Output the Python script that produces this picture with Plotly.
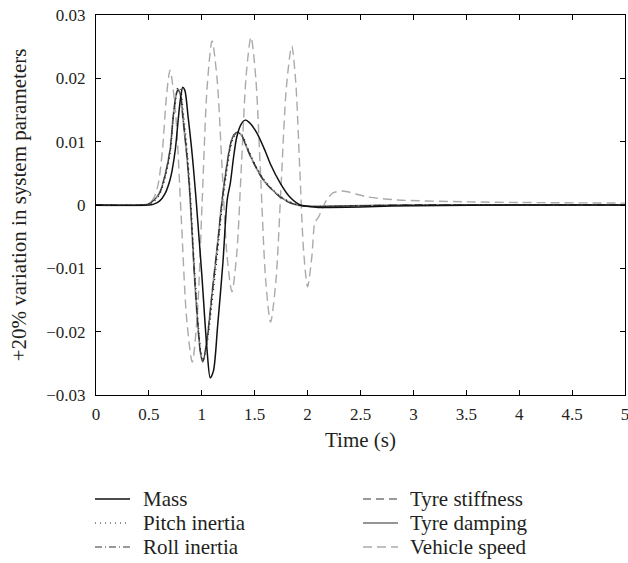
import plotly.graph_objects as go

# ---- data ----
t_mass = [0, 0.5, 0.54, 0.6, 0.65, 0.7, 0.72, 0.75, 0.78, 0.8, 0.82, 0.84, 0.87, 0.9, 0.92, 0.95,
          1.0, 1.05, 1.08, 1.11, 1.15, 1.2, 1.24, 1.27, 1.3, 1.33, 1.37, 1.41, 1.45, 1.52, 1.6,
          1.645, 1.74, 1.83, 1.93, 2.0, 2.1, 2.2, 2.5, 3.0, 4.0, 5.0]
v_mass = [0, 0, 0.0001, 0.0006, 0.0017, 0.0040, 0.0055, 0.0088, 0.0140, 0.0170, 0.0186, 0.0181,
          0.0140, 0.0095, 0.0060, 0.0000, -0.0110, -0.0230, -0.0273, -0.0262, -0.0190, -0.0090,
          0.0008, 0.0035, 0.0075, 0.0107, 0.0127, 0.0134, 0.0130, 0.0114, 0.0085, 0.0066, 0.0035,
          0.0013, 0.0000, -0.0002, -0.0004, -0.0004, -0.0003, -0.0001, 0.0, 0.0]

t_grp = [0, 0.45, 0.5, 0.55, 0.6, 0.65, 0.7, 0.73, 0.755, 0.775, 0.8, 0.82, 0.86, 0.89, 0.93,
         0.97, 0.99, 1.01, 1.05, 1.1, 1.15, 1.19, 1.23, 1.27, 1.3, 1.34, 1.38, 1.42, 1.46, 1.52,
         1.58, 1.66, 1.74, 1.82, 1.9, 2.0, 2.2, 2.5, 3.0, 4.0, 5.0]
v_damping = [0, 0, 0.0002, 0.0008, 0.0019, 0.0045, 0.0087, 0.0140, 0.0172, 0.0183, 0.0172, 0.0140,
             0.0075, 0.0010, -0.0110, -0.0205, -0.0236, -0.0248, -0.0212, -0.0135, -0.0060, 0.0005,
             0.0055, 0.0095, 0.0110, 0.0115, 0.0109, 0.0093, 0.0077, 0.0057, 0.0040, 0.0025, 0.0013,
             0.0005, 0.0000, -0.0002, -0.0002, -0.0001, 0.0, 0.0, 0.0]
v_pitch = [0, 0, 0.0001, 0.0006, 0.0016, 0.0040, 0.0080, 0.0135, 0.0170, 0.0186, 0.0182, 0.0155,
           0.0090, 0.0025, -0.0095, -0.0195, -0.0230, -0.0246, -0.0220, -0.0150, -0.0075, -0.0008,
           0.0045, 0.0088, 0.0106, 0.0114, 0.0111, 0.0096, 0.0080, 0.0059, 0.0042, 0.0026, 0.0014,
           0.0006, 0.0001, -0.0002, -0.0002, -0.0001, 0.0, 0.0, 0.0]
v_roll = [0, 0, 0.0002, 0.0008, 0.0018, 0.0044, 0.0085, 0.0138, 0.0171, 0.0182, 0.0174, 0.0143,
          0.0078, 0.0012, -0.0106, -0.0202, -0.0234, -0.0247, -0.0214, -0.0138, -0.0063, 0.0003,
          0.0053, 0.0093, 0.0109, 0.0114, 0.0109, 0.0094, 0.0078, 0.0058, 0.0041, 0.0025, 0.0013,
          0.0005, 0.0000, -0.0002, -0.0002, -0.0001, 0.0, 0.0, 0.0]
v_stiff = [0, 0, 0.0002, 0.0008, 0.0019, 0.0046, 0.0088, 0.0141, 0.0173, 0.0182, 0.0171, 0.0139,
           0.0074, 0.0008, -0.0112, -0.0207, -0.0237, -0.0247, -0.0210, -0.0133, -0.0058, 0.0006,
           0.0056, 0.0096, 0.0111, 0.0115, 0.0108, 0.0092, 0.0076, 0.0056, 0.0039, 0.0024, 0.0012,
           0.0004, 0.0000, -0.0002, -0.0002, -0.0001, 0.0, 0.0, 0.0]

t_speed = [0, 0.45, 0.5, 0.55, 0.59, 0.63, 0.665, 0.70, 0.7525, 0.805, 0.8575, 0.91, 0.957, 1.0035,
           1.05, 1.097, 1.144, 1.191, 1.238, 1.285, 1.33, 1.375, 1.42, 1.465, 1.511, 1.5575, 1.604,
           1.65, 1.70, 1.75, 1.80, 1.85, 1.8875, 1.925, 1.9625, 2.0, 2.04, 2.07, 2.1, 2.18, 2.24,
           2.33, 2.56, 2.85, 3.5, 4.0, 5.0]
v_speed = [0, 0, 0.0002, 0.0012, 0.0035, 0.0090, 0.0170, 0.0213, 0.0145, -0.0018, -0.0181, -0.0248,
           -0.0174, 0.0006, 0.0185, 0.0259, 0.0200, 0.0061, -0.0079, -0.0137, -0.0078, 0.0064,
           0.0206, 0.0265, 0.0199, 0.0040, -0.0119, -0.0185, -0.0121, 0.0033, 0.0187, 0.0251,
           0.0195, 0.0061, -0.0073, -0.0129, -0.0082, -0.0027, -0.0020, 0.0008, 0.0019, 0.0022,
           0.0013, 0.0008, 0.0005, 0.0004, 0.0003]

x_ticks = [0, 0.5, 1, 1.5, 2, 2.5, 3, 3.5, 4, 4.5, 5]
x_ticktext = ["0", "0.5", "1", "1.5", "2", "2.5", "3", "3.5", "4", "4.5", "5"]
y_ticks = [-0.03, -0.02, -0.01, 0, 0.01, 0.02, 0.03]
y_ticktext = ["\u22120.03", "\u22120.02", "\u22120.01", "0", "0.01", "0.02", "0.03"]

legend_labels = ["Mass", "Pitch inertia", "Roll inertia",
                 "Tyre stiffness", "Tyre damping", "Vehicle speed"]

FONT = "Liberation Serif, Times New Roman, serif"
TXT = "#231f20"

# styles: (color, width, dash)
styles = {
    "Mass": ("#111111", 1.5, "solid"),
    "Pitch inertia": ("#222222", 1.2, "1px,4px"),
    "Roll inertia": ("#333333", 1.0, "7px,3px,1px,3px"),
    "Tyre stiffness": ("#333333", 1.0, "8px,5px"),
    "Tyre damping": ("#959595", 1.8, "solid"),
    "Vehicle speed": ("#aaaaaa", 1.4, "9px,5px"),
}

fig = go.Figure()
sp = dict(mode="lines", line_shape="spline", line_smoothing=0.8, showlegend=False)

series = [("Vehicle speed", t_speed, v_speed),
          ("Tyre damping", t_grp, v_damping),
          ("Tyre stiffness", t_grp, v_stiff),
          ("Roll inertia", t_grp, v_roll),
          ("Pitch inertia", t_grp, v_pitch),
          ("Mass", t_mass, v_mass)]
for name, tx, vy in series:
    c, w, d = styles[name]
    fig.add_trace(go.Scatter(x=tx, y=vy, name=name,
                             line=dict(color=c, width=w, dash=d), **sp))

# ---- legend drawn manually below the axes (paper coordinates) ----
PL, PR, PT, PB = 96, 625, 15, 395  # plot area in pixels
def px(x):
    return (x - PL) / (PR - PL)
def py(y):
    return (PB - y) / (PB - PT)

col_line_x = [95, 363]
col_text_x = [141, 408]
row_y = [499, 523, 547]
shapes = []
annotations = []
for i, name in enumerate(legend_labels):
    col, row = divmod(i, 3)
    c, w, d = styles[name]
    shapes.append(dict(type="line", xref="paper", yref="paper",
                       x0=px(col_line_x[col]), x1=px(col_line_x[col] + 35),
                       y0=py(row_y[row]), y1=py(row_y[row]),
                       line=dict(color=c, width=w, dash=d)))
    annotations.append(dict(xref="paper", yref="paper", x=px(col_text_x[col]),
                            y=py(row_y[row]), xanchor="left", yanchor="middle",
                            text=name, showarrow=False,
                            font=dict(family=FONT, size=21, color=TXT)))

axis_common = dict(showline=True, linecolor="black", linewidth=1, mirror="ticks",
                   ticks="inside", ticklen=5, tickcolor="black", showgrid=False,
                   zeroline=False, ticklabeloverflow="allow",
                   tickfont=dict(family=FONT, size=17, color=TXT))

fig.update_layout(
    width=628, height=563,
    margin=dict(l=PL, r=628 - PR, t=PT, b=563 - PB, autoexpand=False),
    paper_bgcolor="white", plot_bgcolor="white",
    font=dict(family=FONT, size=17, color=TXT),
    xaxis=dict(range=[0, 5], tickvals=x_ticks, ticktext=x_ticktext,
               ticklabelstandoff=4,
               title=dict(text="Time (s)", font=dict(family=FONT, size=21, color=TXT), standoff=8),
               **axis_common),
    yaxis=dict(range=[-0.03, 0.03], tickvals=y_ticks, ticktext=y_ticktext,
               ticklabelstandoff=6,
               title=dict(text="+20% variation in system parameters",
                          font=dict(family=FONT, size=21, color=TXT), standoff=13),
               **axis_common),
    shapes=shapes,
    annotations=annotations,
    showlegend=False,
)

fig.write_html("out.html")
